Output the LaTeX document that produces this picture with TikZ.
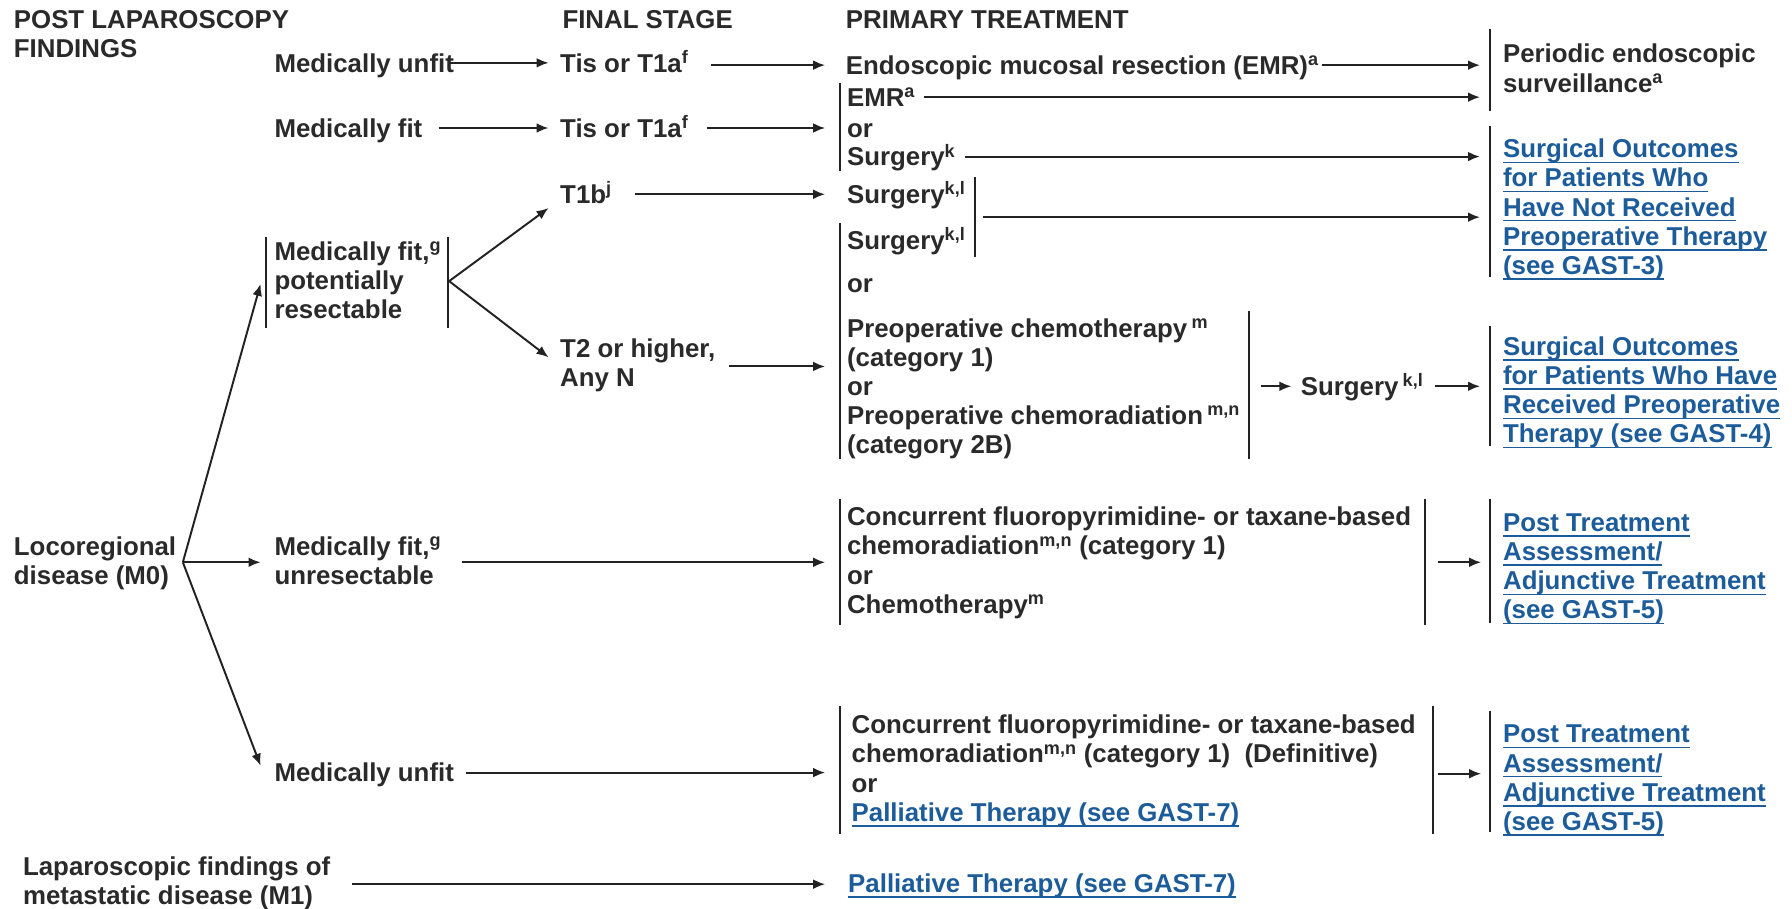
\documentclass[tikz,border=0pt]{standalone}
\usepackage{fontspec}
\setmainfont{Liberation Sans}
\usetikzlibrary{arrows.meta}
\definecolor{ink}{HTML}{2A2A2A}
\definecolor{linkblue}{HTML}{1D5C9A}
\definecolor{rulec}{HTML}{222222}
% raised footnote letters that do not disturb the line spacing
\newcommand{\sps}[1]{\smash{\textsuperscript{#1}}}
% left-aligned block of lines, aligned on the baseline of its first line
\newcommand{\ml}[2][25.5pt]{{\baselineskip=#1\relax\begin{tabular}[t]{@{}l@{}}#2\end{tabular}}}
% underlined cross-reference text
\newsavebox\lkbox
\newcommand{\lk}[1]{\sbox\lkbox{#1}\rlap{\rule[-4.8pt]{\wd\lkbox}{1.4pt}}\usebox\lkbox}
\begin{document}
\begin{tikzpicture}[x=1pt,y=-1pt,
  txt/.style={anchor=base west, inner sep=0pt, text=ink,
    font=\fontsize{22.6}{25.5}\selectfont\bfseries},
  one/.style={text height=16pt, text depth=0pt},
  lnk/.style={txt, text=linkblue},
  arr/.style={draw=rulec, line width=1.7pt, -{Latex[length=10.5pt,width=8.5pt]}},
  brk/.style={draw=rulec, line width=1.5pt}]
\useasboundingbox[fill=white] (0,0) rectangle (1568,795);

% column headings
\node[txt] (hPost) at (12,25) {\ml[26pt]{POST LAPAROSCOPY\\FINDINGS}};
\node[txt,one] (hStage) at (492,25) {FINAL STAGE};
\node[txt,one] (hTreat) at (740,25) {PRIMARY TREATMENT};

% first column
\node[txt,one] (unfitA) at (240,63) {Medically unfit};
\node[txt,one] (fitA) at (240,120) {Medically fit};
\node[txt] (fitPR) at (240,228) {\ml[26.5pt]{Medically fit,\sps{g}\\potentially\\resectable}};
\node[txt] (loco) at (12,486) {\ml[27pt]{Locoregional\\disease (M0)}};
\node[txt] (fitUR) at (240,486) {\ml[27pt]{Medically fit,\sps{g}\\unresectable}};
\node[txt,one] (unfitB) at (240,684) {Medically unfit};
\node[txt] (lapa) at (20,766) {\ml[26pt]{Laparoscopic findings of\\metastatic disease (M1)}};

% final stage
\node[txt,one] (tisA) at (490,63) {Tis or T1a\sps{f}};
\node[txt,one] (tisB) at (490,120) {Tis or T1a\sps{f}};
\node[txt,one] (t1b) at (490,178) {T1b\sps{j}};
\node[txt] (t2) at (490,313) {\ml[25pt]{T2 or higher,\\Any N}};

% primary treatment
\node[txt,one] (emrA) at (740,65) {Endoscopic mucosal resection (EMR)\sps{a}};
\node[txt,one] (emrB) at (741,93) {EMR\sps{a}};
\node[txt,one] (orA) at (741,120) {or};
\node[txt,one] (surgK) at (741,145) {Surgery\sps{k}};
\node[txt,one] (surgKL1) at (741,178) {Surgery\sps{k,l}};
\node[txt,one] (surgKL2) at (741,218) {Surgery\sps{k,l}};
\node[txt,one] (orB) at (741,256) {or};
\node[txt] (preop) at (741,295) {\ml[25.25pt]{Preoperative chemotherapy\,\sps{m}\\(category 1)\\or\\Preoperative chemoradiation\,\sps{m,n}\\(category 2B)}};
\node[txt,one] (surgKL3) at (1138,346) {Surgery\,\sps{k,l}};
\node[txt] (chemoA) at (741,460) {\ml[27pt]{Concurrent fluoropyrimidine- or taxane-based\\chemoradiation\sps{m,n} (category 1)\\or\\Chemotherapy\sps{m}}};
\node[txt] (chemoB) at (745,642) {\ml[27pt]{Concurrent fluoropyrimidine- or taxane-based\\chemoradiation\sps{m,n} (category 1)\ \ (Definitive)\\or\\\textcolor{linkblue}{\lk{Palliative Therapy (see GAST-7)}}}};
\node[lnk,one] (pall) at (742,781) {\lk{Palliative Therapy (see GAST-7)}};

% outcomes
\node[txt] (surv) at (1315,55) {\ml[27pt]{Periodic endoscopic\\surveillance\sps{a}}};
\node[lnk] (outA) at (1315,138) {\ml[24.75pt]{\lk{Surgical Outcomes}\\\lk{for Patients Who}\\\lk{Have Not Received}\\\lk{Preoperative Therapy}\\\lk{(see GAST-3)}}};
\node[lnk] (outB) at (1315,311) {\ml[25pt]{\lk{Surgical Outcomes}\\\lk{for Patients Who Have}\\\lk{Received Preoperative}\\\lk{Therapy (see GAST-4)}}};
\node[lnk] (postA) at (1315,465) {\ml[25pt]{\lk{Post Treatment}\\\lk{Assessment/}\\\lk{Adjunctive Treatment}\\\lk{(see GAST-5)}}};
\node[lnk] (postB) at (1315,650) {\ml[24.7pt]{\lk{Post Treatment}\\\lk{Assessment/}\\\lk{Adjunctive Treatment}\\\lk{(see GAST-5)}}};

% bracket rules beside grouped entries
\draw[brk] (1304,25) -- (1304,97);
\draw[brk] (735,73) -- (735,150);
\draw[brk] (1304,110) -- (1304,242);
\draw[brk] (853,155) -- (853,225);
\draw[brk] (735,195) -- (735,402);
\draw[brk] (1093,272) -- (1093,402);
\draw[brk] (1304,285) -- (1304,390);
\draw[brk] (233,207) -- (233,287);
\draw[brk] (392,207) -- (392,287);
\draw[brk] (735,437) -- (735,547);
\draw[brk] (1247,437) -- (1247,547);
\draw[brk] (1304,437) -- (1304,545);
\draw[brk] (735,618) -- (735,730);
\draw[brk] (1254,618) -- (1254,730);
\draw[brk] (1304,622) -- (1304,728);

% branch and bracket exit points
\coordinate (locoOut) at (160,492);
\coordinate (fitPROut) at (393,246);
\coordinate (klOut) at (853,190);
\coordinate (preOut) at (1093,338);
\coordinate (chemoAOut) at (1247,492);
\coordinate (chemoBOut) at (1254,677);

% connectors
\draw[arr] ([xshift=-4pt]unfitA.east) -- ([xshift=-10pt]tisA.west);
\draw[arr] ([xshift=20pt]tisA.east |- emrA.west) -- ([xshift=-18pt]emrA.west);
\draw[arr] ([xshift=3pt]emrA.east) -- ([xshift=-20pt]emrA.east -| surv.west);
\draw[arr] ([xshift=14pt]fitA.east) -- ([xshift=-10pt]tisB.west);
\draw[arr] ([xshift=16pt]tisB.east) -- ([xshift=-19pt]tisB.east -| orA.west);
\draw[arr] ([xshift=8pt]emrB.east) -- ([xshift=-20pt]emrB.east -| surv.west);
\draw[arr] ([xshift=8pt]surgK.east) -- ([xshift=-20pt]surgK.east -| outA.west);
\draw[arr] ([xshift=20pt]t1b.east) -- ([xshift=-19pt]t1b.east -| surgKL1.west);
\draw[arr] ([xshift=7pt]klOut) -- ([xshift=-20pt]klOut -| outA.west);
\draw[arr] (fitPROut) -- ([shift={(-10,12)}]t1b.west);
\draw[arr] (fitPROut) -- ([shift={(-10,-8)}]t2.west);
\draw[arr] ([xshift=12pt]t2.east) -- ([xshift=-19pt]t2.east -| preop.west);
\draw[arr] ([xshift=10pt]preOut) -- ([xshift=-8pt]surgKL3.west);
\draw[arr] ([xshift=10pt]surgKL3.east) -- ([xshift=-20pt]surgKL3.east -| outB.west);
\draw[arr] (locoOut) -- ([xshift=-12pt]fitPR.west);
\draw[arr] (locoOut) -- ([xshift=-12pt]locoOut -| fitUR.west);
\draw[arr] (locoOut) -- ([shift={(-12,-6)}]unfitB.west);
\draw[arr] ([xshift=18pt]fitUR.east |- locoOut) -- ([xshift=-19pt]locoOut -| chemoA.west);
\draw[arr] ([xshift=11pt]chemoAOut) -- ([xshift=-19pt]chemoAOut -| postA.west);
\draw[arr] ([xshift=10pt]unfitB.east) -- ([xshift=-23pt]unfitB.east -| chemoB.west);
\draw[arr] ([xshift=4pt]chemoBOut) -- ([xshift=-19pt]chemoBOut -| postB.west);
\draw[arr] ([xshift=19pt]lapa.east) -- ([xshift=-20pt]lapa.east -| pall.west);
\end{tikzpicture}
\end{document}
